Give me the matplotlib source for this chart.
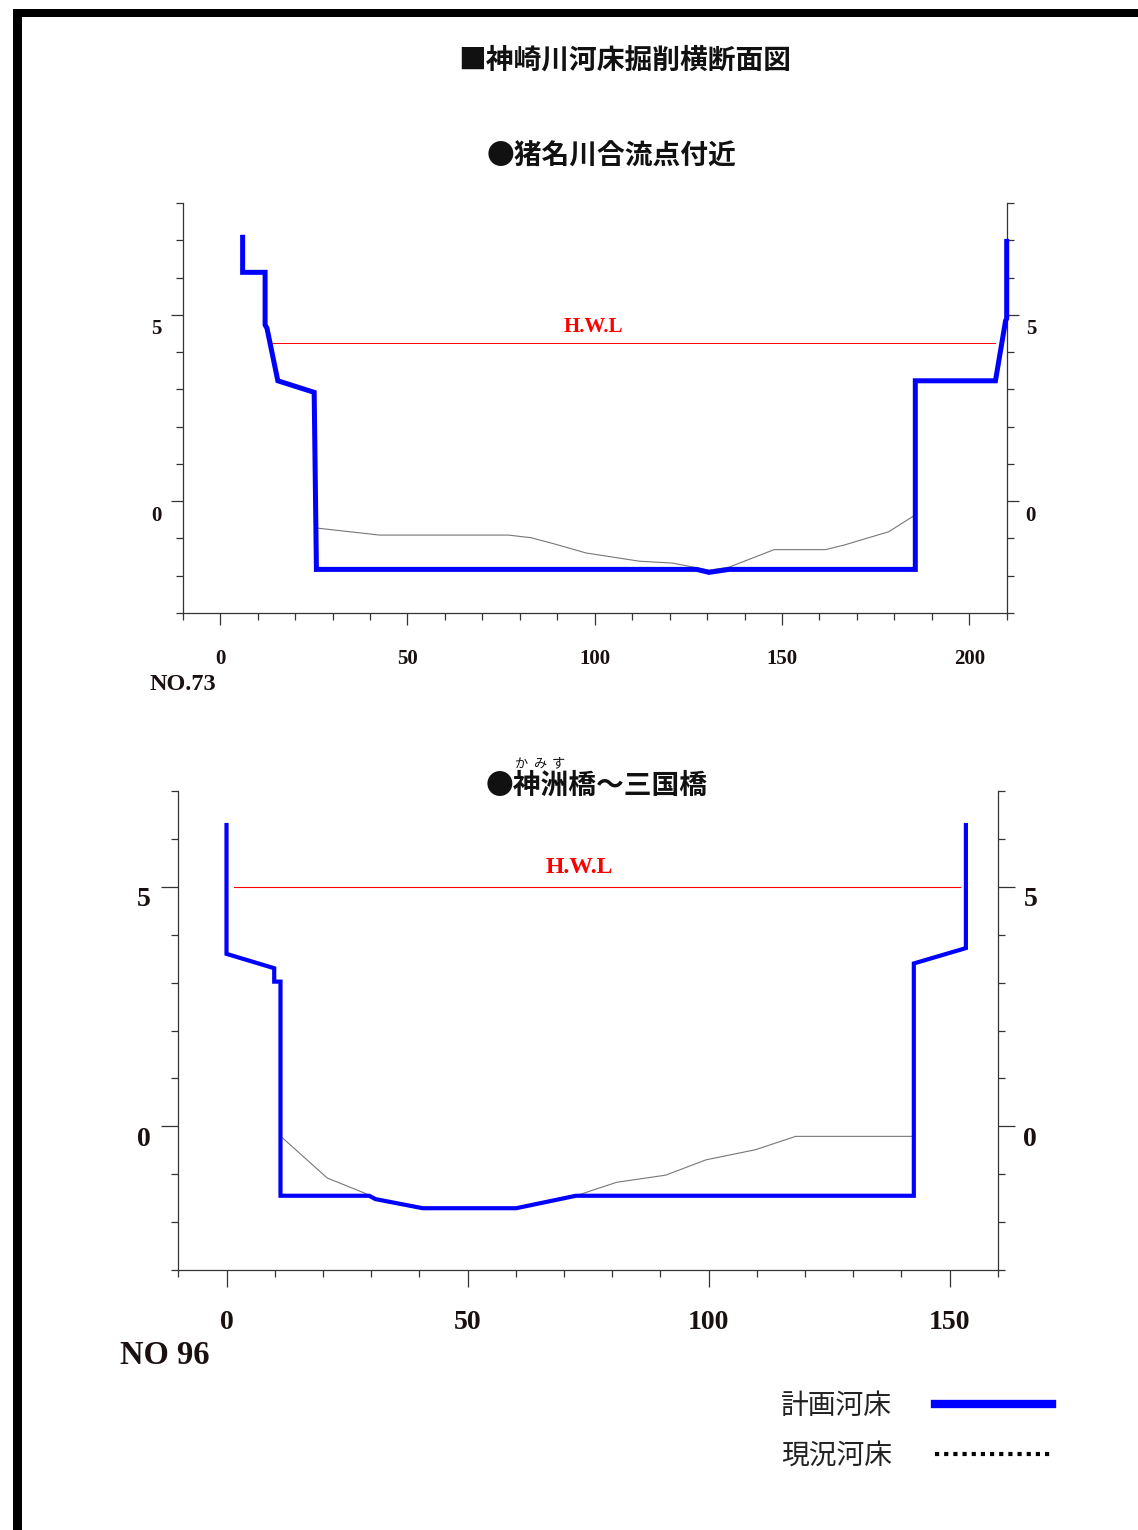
import numpy as np
import matplotlib
matplotlib.use("Agg")
import matplotlib.pyplot as plt
from matplotlib.lines import Line2D
from matplotlib.patches import Rectangle
from matplotlib.transforms import ScaledTranslation

# --- data ---
# upper section (NO.73, near the Ina river confluence)
plan1_x = [6.0, 6.0, 12.0, 12.0, 12.5, 15.4, 25.1, 25.7, 127.2, 130.5, 135.9, 185.6, 185.6, 207.0, 209.7, 210.0, 210.0]
plan1_y = [7.08, 6.14, 6.14, 4.73, 4.64, 3.23, 2.92, -1.83, -1.83, -1.91, -1.83, -1.83, 3.23, 3.23, 4.84, 4.90, 6.97]
exist1_x = [25.7, 42.6, 77.0, 83.0, 89.0, 97.7, 111.9, 120.7, 130.5, 135.9, 147.9, 161.6, 166.5, 178.5, 185.1]
exist1_y = [-0.72, -0.91, -0.91, -0.98, -1.14, -1.39, -1.61, -1.66, -1.85, -1.77, -1.30, -1.30, -1.18, -0.82, -0.40]
hwl1_x = [13.8, 207.0]
hwl1_y = 4.24

# lower section (NO 96, Kamisu bridge - Mikuni bridge)
plan2_x = [0.0, 0.0, 9.9, 9.9, 11.2, 11.2, 29.6, 30.9, 40.7, 60.1, 72.5, 142.6, 142.6, 153.4, 153.4]
plan2_y = [6.29, 3.60, 3.30, 3.02, 3.02, -1.45, -1.45, -1.52, -1.71, -1.71, -1.45, -1.45, 3.40, 3.72, 6.29]
exist2_x = [11.6, 20.9, 28.8, 30.9, 40.7, 60.1, 72.5, 80.9, 91.1, 99.5, 109.7, 118.1, 142.2]
exist2_y = [-0.24, -1.08, -1.40, -1.52, -1.71, -1.71, -1.45, -1.17, -1.02, -0.70, -0.49, -0.21, -0.21]
hwl2_x = [1.5, 152.1]
hwl2_y = 5.0

title = "■神崎川河床掘削横断面図"
sub1 = "●猪名川合流点付近"
sub2 = "●神洲橋～三国橋"
ruby2 = ["か", "み", "す"]
legend_labels = ["計画河床", "現況河床"]

W, H = 1138, 1530
fig = plt.figure(figsize=(W / 100, H / 100), dpi=100)
fig.patch.set_facecolor("white")

cjk = ["Noto Sans CJK JP", "DejaVu Sans"]
serif = "Liberation Serif"
lab_col = "#1a1010"
ax_col = "#333333"


def px(x, y):
    return x / W, 1 - y / H


def setup_axes(ax, xlim, ylim, xmajor, ymajor, fs, tick_major, xpad, ypad):
    ax.set_xlim(*xlim)
    ax.set_ylim(*ylim)
    ax.spines["top"].set_visible(False)
    for s in ["left", "right", "bottom"]:
        ax.spines[s].set_color(ax_col)
        ax.spines[s].set_linewidth(0.9)
    ax.set_xticks(xmajor)
    ax.set_xticks(np.arange(xlim[0], xlim[1] + 1, 10), minor=True)
    ax.set_yticks(ymajor)
    ax.set_yticks(np.arange(ylim[0], ylim[1] + 1, 1), minor=True)
    ax.set_xticklabels([str(v) for v in xmajor])
    ax.set_yticklabels([str(v) for v in ymajor])
    ax.tick_params(which="both", direction="out", color=ax_col, width=0.9,
                   left=True, right=True, labelleft=True, labelright=True)
    ax.tick_params(which="minor", length=5)
    ax.tick_params(which="major", length=tick_major, labelsize=fs, labelcolor=lab_col)
    ax.tick_params(axis="x", which="major", pad=xpad)
    ax.tick_params(axis="y", which="major", pad=ypad)
    for lab in ax.get_xticklabels() + ax.get_yticklabels():
        lab.set_fontfamily(serif)
        lab.set_fontweight("bold")


def shift_ylabels(ax, dy, dx_right):
    off1 = ScaledTranslation(0, -dy / 100, fig.dpi_scale_trans)
    off2 = ScaledTranslation(dx_right / 100, -dy / 100, fig.dpi_scale_trans)
    for t in ax.yaxis.get_major_ticks():
        t.label1.set_transform(t.label1.get_transform() + off1)
        t.label2.set_transform(t.label2.get_transform() + off2)


# ---- upper chart ----
ax1 = fig.add_axes([182.7 / W, 1 - 613 / H, 824 / W, 410 / H])
setup_axes(ax1, (-10, 210), (-3, 8), [0, 50, 100, 150, 200], [0, 5], 15, 8.6, 17, 6.5)
shift_ylabels(ax1, 12, -2)
ax1.plot(exist1_x, exist1_y, color="#777777", lw=0.8, zorder=2)
ax1.plot(hwl1_x, [hwl1_y, hwl1_y], color="red", lw=0.7, zorder=2)
ax1.plot(plan1_x, plan1_y, color="#0000ff", lw=3.6, zorder=3, clip_on=False,
         solid_joinstyle="miter")
ax1.text(np.mean(hwl1_x) - 10.8, hwl1_y + 0.44, "H.W.L", color="red", fontsize=15,
         fontfamily=serif, fontweight="bold", ha="center", va="center")

# ---- lower chart ----
ax2 = fig.add_axes([178.3 / W, 1 - 1270 / H, 819.4 / W, 479 / H])
setup_axes(ax2, (-10, 160), (-3, 7), [0, 50, 100, 150], [0, 5], 20, 12.5, 16, 7.5)
shift_ylabels(ax2, 10, -2)
ax2.plot(exist2_x, exist2_y, color="#777777", lw=0.8, zorder=2)
ax2.plot(hwl2_x, [hwl2_y, hwl2_y], color="red", lw=0.8, zorder=2)
ax2.plot(plan2_x, plan2_y, color="#0000ff", lw=3.0, zorder=3, solid_joinstyle="miter")
ax2.text(np.mean(hwl2_x) - 3.7, hwl2_y + 0.4, "H.W.L", color="red", fontsize=17,
         fontfamily=serif, fontweight="bold", ha="center", va="center")

# ---- titles and labels ----
fig.text(*px(625, 61), title, fontsize=20, family=cjk, fontweight="bold",
         ha="center", va="center", color="#111111")
fig.text(*px(612, 157), sub1, fontsize=20, family=cjk, fontweight="bold",
         ha="center", va="center", color="#111111")
fig.text(*px(597, 786), sub2, fontsize=20, family=cjk, fontweight="bold",
         ha="center", va="center", color="#111111")
for i, ch in enumerate(ruby2):
    fig.text(*px(522 + i * 18, 764), ch, fontsize=9.5, family=cjk, ha="center",
             va="center", color="#111111")
fig.text(*px(150, 684), "NO.73", fontsize=17.5, fontfamily=serif, fontweight="bold",
         ha="left", va="center", color=lab_col)
fig.text(*px(120, 1356), "NO 96", fontsize=23.5, fontfamily=serif, fontweight="bold",
         ha="left", va="center", color=lab_col)

# ---- legend ----
handles = [Line2D([], [], color="#0000ff", lw=6),
           Line2D([], [], color="black", lw=3, linestyle=(0, (1, 1.2)))]
leg = fig.legend(handles, legend_labels, loc="center left",
                 bbox_to_anchor=px(781, 1431), markerfirst=False, frameon=False,
                 prop={"family": cjk, "size": 20}, handlelength=4.2,
                 handletextpad=1.55, labelspacing=0.72, borderpad=0, borderaxespad=0)
for t in leg.get_texts():
    t.set_color("#222222")

# ---- page border ----
fig.add_artist(Rectangle((13 / W, 0), 9 / W, 1 - 9 / H, transform=fig.transFigure,
                         facecolor="black", edgecolor="none"))
fig.add_artist(Rectangle((13 / W, 1 - 17 / H), 1 - 13 / W, 8 / H, transform=fig.transFigure,
                         facecolor="black", edgecolor="none"))

fig.savefig("out.png", dpi=100)
